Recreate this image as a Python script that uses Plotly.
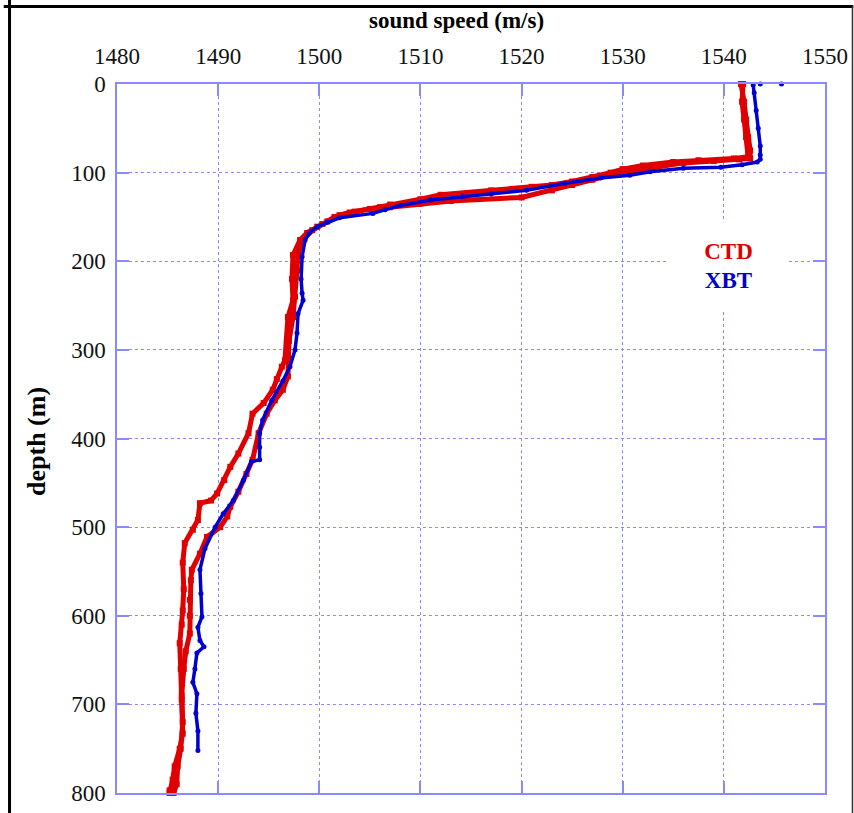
import plotly.graph_objects as go

# --- Sound-speed profiles (depth in m, speed in m/s) ---
# CTD downcast
ctd_down_depth = [0, 20, 40, 60, 75, 82, 84, 86, 88, 92, 96, 100, 105, 110, 114, 116, 120,
                  125, 130, 136, 139, 144, 148, 155, 161, 168, 176, 193, 220, 244, 263, 290,
                  312, 319, 333, 345, 360, 372, 394, 417, 432, 447, 462, 470, 473, 492, 503,
                  518, 540, 570, 594, 610, 631, 660, 695, 733, 750, 770, 785, 797, 800]
ctd_down_speed = [1541.9, 1541.8, 1542.0, 1542.2, 1542.4, 1542.4, 1541.0, 1537.5, 1535.0,
                  1532.0, 1530.0, 1528.8, 1527.0, 1525.0, 1523.0, 1521.0, 1517.0, 1512.0,
                  1510.0, 1507.0, 1506.0, 1503.5, 1502.0, 1500.8, 1499.8, 1498.8, 1498.1,
                  1497.4, 1497.3, 1497.4, 1496.9, 1496.8, 1496.6, 1496.3, 1495.8, 1495.4,
                  1494.5, 1493.4, 1493.0, 1492.0, 1491.2, 1490.6, 1489.9, 1489.3, 1488.2,
                  1488.0, 1487.5, 1486.7, 1486.5, 1486.6, 1486.5, 1486.4, 1486.2, 1486.3,
                  1486.4, 1486.5, 1486.2, 1485.7, 1485.5, 1485.2, 1485.2]

# CTD upcast
ctd_up_depth = [800, 790, 770, 750, 720, 690, 660, 640, 620, 600, 582, 560, 548, 530, 511,
                500, 488, 477, 460, 440, 424, 394, 372, 357, 345, 330, 310, 290, 263, 240,
                210, 190, 176, 165, 158, 150, 145, 141, 139, 135, 132, 128, 120, 114, 108,
                102, 96, 89, 87, 85, 84, 75, 60, 40, 20, 0]
ctd_up_speed = [1485.6, 1485.9, 1486.0, 1486.3, 1486.5, 1486.4, 1486.6, 1486.8, 1487.2,
                1487.2, 1487.2, 1487.3, 1487.4, 1488.2, 1488.9, 1490.2, 1490.9, 1491.2,
                1492.0, 1492.8, 1493.4, 1494.0, 1494.8, 1495.6, 1496.4, 1496.9, 1497.0,
                1497.0, 1497.4, 1497.6, 1497.8, 1497.9, 1498.4, 1499.3, 1500.3, 1501.5,
                1503.0, 1505.0, 1507.0, 1510.0, 1513.0, 1520.0, 1523.0, 1525.0, 1527.0,
                1529.0, 1532.0, 1536.0, 1539.0, 1541.5, 1542.6, 1542.6, 1542.4, 1542.2,
                1542.0, 1541.7]

# XBT drop
xbt_depth = [1, 10, 30, 50, 70, 80, 85, 88, 91, 94, 95, 99, 103, 106, 112, 120, 124, 127,
             131, 137, 142, 146, 151, 156, 161, 168, 176, 195, 220, 236, 244, 259, 281, 300,
             319, 335, 357, 379, 394, 410, 424, 426, 447, 470, 485, 500, 524, 548, 575, 601,
             613, 628, 635, 642, 660, 675, 688, 710, 730, 752]
xbt_speed = [1542.9, 1543.0, 1543.2, 1543.4, 1543.6, 1543.6, 1543.6, 1543.3, 1541.8,
             1539.7, 1536.0, 1532.7, 1530.7, 1527.8, 1524.3, 1520.5, 1517.0, 1514.2,
             1511.0, 1508.0, 1506.5, 1505.3, 1502.0, 1500.8, 1499.8, 1499.0, 1498.6,
             1498.3, 1498.2, 1498.3, 1498.4, 1497.9, 1497.8, 1497.6, 1497.1, 1496.4,
             1495.3, 1494.4, 1494.1, 1494.1, 1494.1, 1493.3, 1492.5, 1491.5, 1490.5,
             1489.7, 1488.7, 1488.2, 1488.3, 1488.4, 1488.0, 1488.2, 1488.6, 1487.9,
             1487.7, 1487.5, 1487.9, 1487.8, 1488.0, 1488.0]

# isolated XBT samples right at the surface
xbt_surface_depth = [0, 0]
xbt_surface_speed = [1543.6, 1545.7]

x_ticks = [1480, 1490, 1500, 1510, 1520, 1530, 1540, 1550]
y_ticks = [0, 100, 200, 300, 400, 500, 600, 700, 800]

RED = "#e00000"
BLUE = "#0000d0"
GRID = "#8a8aff"
FONT = "Liberation Serif"

fig = go.Figure()

for depth, speed in [(ctd_down_depth, ctd_down_speed), (ctd_up_depth, ctd_up_speed)]:
    fig.add_trace(go.Scatter(
        x=speed, y=depth, mode="lines+markers",
        line=dict(color=RED, width=5),
        marker=dict(color=RED, size=6, symbol="square"),
        showlegend=False, cliponaxis=False))

fig.add_trace(go.Scatter(
    x=xbt_speed, y=xbt_depth, mode="lines+markers",
    line=dict(color=BLUE, width=3.5),
    marker=dict(color=BLUE, size=5),
    showlegend=False, cliponaxis=False))

fig.add_trace(go.Scatter(
    x=xbt_surface_speed, y=xbt_surface_depth, mode="markers",
    marker=dict(color=BLUE, size=5),
    showlegend=False, cliponaxis=False))

axis_common = dict(
    showgrid=True, gridcolor=GRID, gridwidth=1, griddash="dot",
    showline=True, linecolor=GRID, linewidth=1.5, mirror="allticks",
    ticks="inside", ticklen=12, tickcolor=GRID, tickwidth=1.5,
    zeroline=False, automargin=False,
    tickfont=dict(family=FONT, size=23, color="#111111"),
)

fig.update_xaxes(range=[1480, 1550], tickvals=x_ticks, side="top",
                 ticklabelstandoff=9, **axis_common)
fig.update_yaxes(range=[800, 0], tickvals=y_ticks, ticklabelstandoff=5, **axis_common)

# outer black frame
frame = dict(type="line", xref="paper", yref="paper", line=dict(color="black"))
fig.add_shape(**frame, x0=-0.1518, x1=-0.1518, y0=1.12, y1=-0.05, line_width=3)
fig.add_shape(**frame, x0=-0.16, x1=1.04, y0=1.1093, y1=1.1093, line_width=3)
fig.add_shape(type="line", xref="paper", yref="paper", x0=1.0388, x1=1.0388,
              y0=1.11, y1=-0.05, line=dict(color="#333333", width=1.5))

fig.add_annotation(text="<b>sound speed (m/s)</b>", xref="paper", yref="paper",
                   x=0.48, y=1.0889, showarrow=False, xanchor="center", yanchor="middle",
                   font=dict(family=FONT, size=23, color="black"))
fig.add_annotation(text="<b>depth (m)</b>", xref="paper", yref="paper",
                   x=-0.113, y=0.4965, showarrow=False, textangle=-90,
                   xanchor="center", yanchor="middle",
                   font=dict(family=FONT, size=26, color="black"))

# legend block on a white patch
fig.add_annotation(
    text=f'<b><span style="color:{RED}">CTD</span><br>'
         f'<span style="color:{BLUE}">XBT</span></b>',
    xref="paper", yref="paper", x=0.863, y=0.744, showarrow=False,
    xanchor="center", yanchor="middle", bgcolor="white", width=117, height=84,
    font=dict(family=FONT, size=23))

fig.update_layout(
    width=854, height=813,
    margin=dict(l=117, r=29, t=84, b=20),
    paper_bgcolor="white", plot_bgcolor="white",
)

fig.write_html("out.html")
